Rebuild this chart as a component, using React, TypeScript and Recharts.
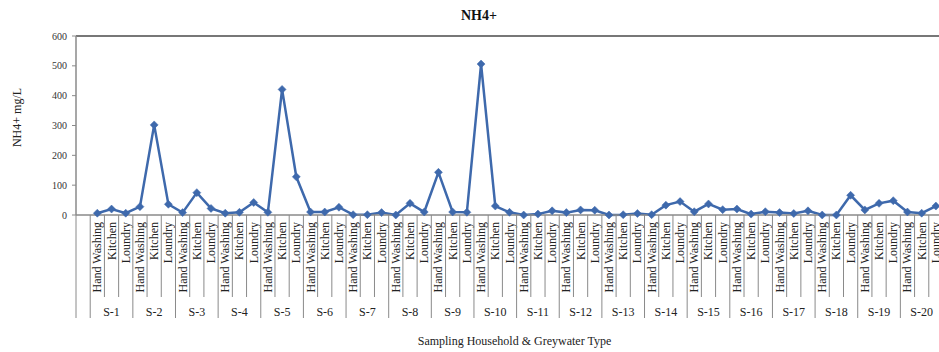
import React from 'react';
import { LineChart, Line, XAxis, YAxis, ReferenceLine } from 'recharts';

const groups = ['S-1','S-2','S-3','S-4','S-5','S-6','S-7','S-8','S-9','S-10','S-11','S-12','S-13','S-14','S-15','S-16','S-17','S-18','S-19','S-20'];
const types = ['Hand Washing', 'Kitchen', 'Loundry'];
const nh4Values = [
  6, 20, 6,
  28, 302, 36,
  8, 75, 22,
  6, 9, 42,
  9, 421, 128,
  10, 10, 26,
  1, 1, 8,
  0, 39, 10,
  143, 10, 9,
  506, 30, 9,
  0, 3, 14,
  8, 17, 16,
  0, 1, 5,
  1, 33, 45,
  11, 37, 18,
  20, 3, 11,
  8, 5, 14,
  0, 0, 66,
  17, 39, 48,
  10, 6, 30,
];
const yTicks = [0, 100, 200, 300, 400, 500, 600];

type Row = { key: string; type: string; group: string; value: number | null };
const data: Row[] = [{ key: 'blank', type: '', group: '', value: null }];
groups.forEach((g, gi) => {
  types.forEach((t, ti) => {
    data.push({ key: `${g}-${t}`, type: t, group: g, value: nh4Values[gi * 3 + ti] });
  });
});

const CHART_W = 943;
const CHART_H = 352;
const Y_AXIS_W = 76;
const PLOT_W = CHART_W - Y_AXIS_W;
const BW = PLOT_W / data.length;
const FONT = "'Liberation Serif', 'Times New Roman', serif";
const LINE_COLOR = '#3E69AC';
const GRID_COLOR = '#8a8a8a';

const CategoryTick = (props: any) => {
  const { x, y, payload } = props;
  const i = payload.index;
  const row = data[i];
  if (!row) return null;
  const left = x - BW / 2;
  const isGroupStart = i === 0 || (i - 1) % 3 === 0;
  const lineEnd = isGroupStart ? y + 103 : y + 82;
  return (
    <g>
      <line x1={left} y1={y} x2={left} y2={lineEnd} stroke={GRID_COLOR} strokeWidth={1} />
      {row.type ? (
        <text
          x={x}
          y={y + 7}
          transform={`rotate(-90, ${x}, ${y + 7})`}
          textAnchor="end"
          dominantBaseline="central"
          fontSize={12}
          fontFamily={FONT}
          fill="#222"
        >
          {row.type}
        </text>
      ) : null}
      {row.type === 'Kitchen' ? (
        <text x={x} y={y + 101} textAnchor="middle" fontSize={12} fontFamily={FONT} fill="#222">
          {row.group}
        </text>
      ) : null}
    </g>
  );
};

const YTitle = (props: any) => {
  const vb = props.viewBox || {};
  const cy = (vb.y || 0) + (vb.height || 0) / 2 - 8;
  const cx = 17;
  return (
    <text
      x={cx}
      y={cy}
      transform={`rotate(-90, ${cx}, ${cy})`}
      textAnchor="middle"
      dominantBaseline="central"
      fontSize={12}
      fontFamily={FONT}
      fill="#222"
    >
      NH4+ mg/L
    </text>
  );
};

const Diamond = (props: any) => {
  const { cx, cy } = props;
  if (cx == null || cy == null || props.value == null) return null;
  const r = 4;
  return (
    <path
      d={`M${cx},${cy - r} L${cx + r},${cy} L${cx},${cy + r} L${cx - r},${cy} Z`}
      fill={LINE_COLOR}
      stroke={LINE_COLOR}
      strokeWidth={0.5}
    />
  );
};

export default function App() {
  return (
    <div
      style={{
        position: 'fixed',
        left: 0,
        top: 0,
        width: 939,
        height: 352,
        overflow: 'hidden',
        background: '#fff',
      }}
    >
      <div style={{ position: 'relative', width: CHART_W, height: CHART_H }}>
        <LineChart
          width={CHART_W}
          height={CHART_H}
          data={data}
          margin={{ top: 36, right: 0, bottom: 0, left: 0 }}
        >
          <XAxis
            dataKey="key"
            scale="band"
            interval={0}
            height={CHART_H - 215}
            tickSize={0}
            tickMargin={0}
            tickLine={false}
            axisLine={{ stroke: GRID_COLOR, strokeWidth: 1.5 }}
            tick={<CategoryTick />}
            label={{
              value: 'Sampling Household & Greywater Type',
              position: 'insideBottom',
              offset: 7,
              fontSize: 12,
              fontFamily: FONT,
              fill: '#222',
              dx: 5,
            }}
          />
          <YAxis
            width={Y_AXIS_W}
            domain={[0, 600]}
            ticks={yTicks}
            interval={0}
            tickSize={4}
            tickMargin={5}
            tickLine={{ stroke: GRID_COLOR }}
            axisLine={{ stroke: GRID_COLOR, strokeWidth: 1.5 }}
            tick={{ fontSize: 10, fontFamily: FONT, fill: '#333' }}
            label={<YTitle />}
          />
          <ReferenceLine y={600} stroke="#777" strokeWidth={2} ifOverflow="extendDomain" />
          <Line
            type="linear"
            dataKey="value"
            stroke={LINE_COLOR}
            strokeWidth={2.5}
            dot={<Diamond />}
            activeDot={false}
            isAnimationActive={false}
          />
        </LineChart>
        <div
          style={{
            position: 'absolute',
            left: 0,
            top: 8,
            width: 958,
            textAlign: 'center',
            fontFamily: FONT,
            fontWeight: 'bold',
            fontSize: 14,
            color: '#111',
          }}
        >
          NH4+
        </div>
      </div>
    </div>
  );
}
